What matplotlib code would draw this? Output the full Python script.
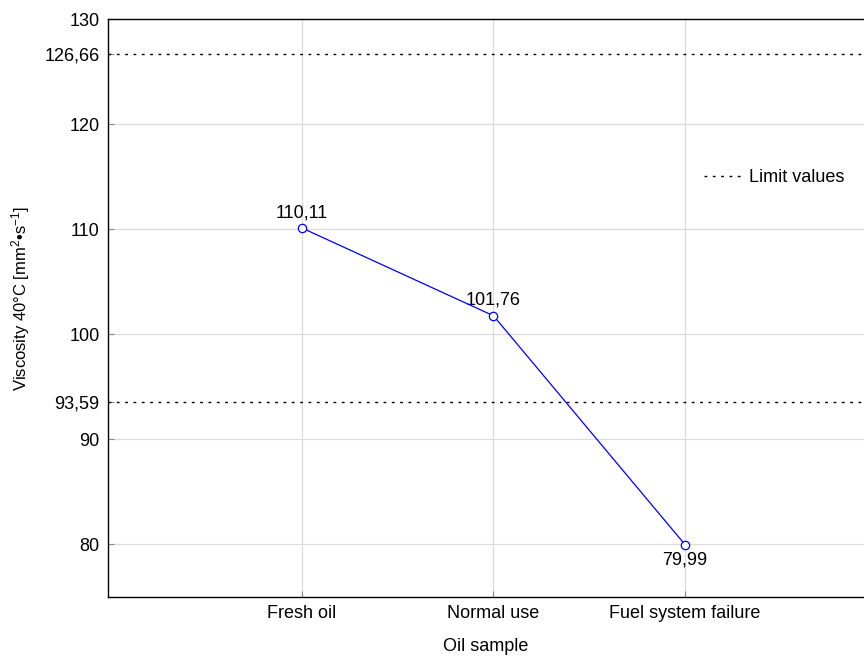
import numpy as np
import matplotlib
matplotlib.use("Agg")
import matplotlib.pyplot as plt

plt.rcParams['font.family'] = ['Liberation Sans', 'DejaVu Sans']
plt.rcParams['mathtext.fontset'] = 'custom'
plt.rcParams['mathtext.rm'] = 'Liberation Sans'
plt.rcParams['mathtext.it'] = 'Liberation Sans'

# data
samples = ['Fresh oil', 'Normal use', 'Fuel system failure']
viscosity = [110.11, 101.76, 79.99]
limits = [93.59, 126.66]
yticks = [80, 90, 93.59, 100, 110, 120, 126.66, 130]

def fmt(v):
    s = ('%.2f' % v).rstrip('0').rstrip('.') if v != int(v) else '%d' % v
    return s.replace('.', ',')

fs = 13

fig = plt.figure(figsize=(8.64, 6.59), dpi=100)
ax = fig.add_axes([108 / 864, 1 - 597 / 659, 1 - 108 / 864, (597 - 19) / 659])

x = np.arange(len(samples))
ax.plot(x, viscosity, color='blue', lw=0.9, marker='o', ms=6,
        mfc='white', mec='blue', mew=0.9, zorder=4)

offsets = [11, 11, -11]
for xi, v, off in zip(x, viscosity, offsets):
    ax.annotate(fmt(v), (xi, v), xytext=(0, off), textcoords='offset points',
                ha='center', va='center', fontsize=fs)

for i, lim in enumerate(limits):
    ax.axhline(lim, color='black', lw=1.0, ls=(0, (2, 4)), zorder=3,
               label='Limit values' if i == 0 else None)

ax.set_xlim(-1.013, 2.935)
ax.set_ylim(75, 130)
ax.set_xticks(x)
ax.set_xticklabels(samples, fontsize=fs)
ax.set_yticks(yticks)
ax.set_yticklabels([fmt(t) for t in yticks], fontsize=fs)

grid_y = [80, 90, 100, 110, 120]
for g in grid_y:
    ax.axhline(g, color='#dcdcdc', lw=0.9, zorder=0)
for xi in x:
    ax.axvline(xi, color='#dcdcdc', lw=0.9, zorder=0)

ax.tick_params(axis='both', direction='in', length=4, color='#888888', pad=6)
ax.spines['right'].set_visible(False)
for s in ['left', 'bottom', 'top']:
    ax.spines[s].set_linewidth(1.0)

ax.set_xlabel('Oil sample', fontsize=fs, labelpad=11)
ax.set_ylabel('Viscosity 40°C [mm$^{2}$•s$^{-1}$]', fontsize=12)
ax.yaxis.set_label_coords(-0.1005, 0.517)

ax.legend(loc='center left', bbox_to_anchor=(688 / 864, 1 - 178 / 659),
          bbox_transform=fig.transFigure, frameon=False, fontsize=fs,
          handlelength=2.2, handletextpad=0.3)

fig.savefig('out.png', dpi=100)
